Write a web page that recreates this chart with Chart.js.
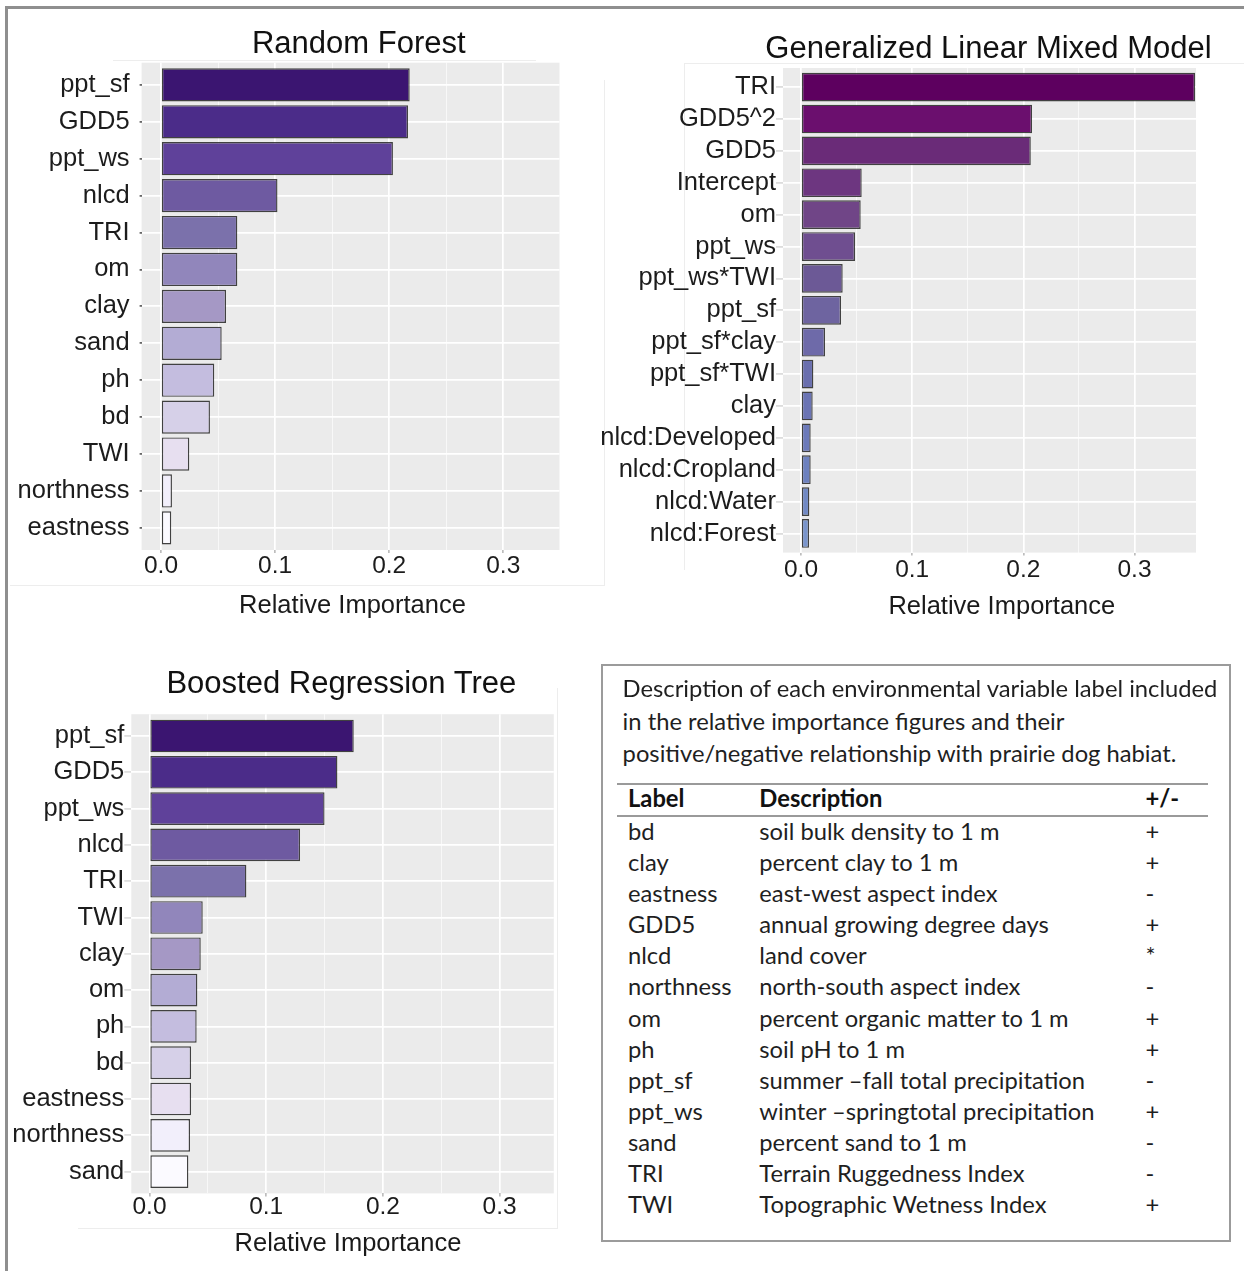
<!DOCTYPE html>
<html lang="en">
<head>
<meta charset="utf-8">
<title>Relative importance of prairie dog habitat variables</title>
<script src="https://cdn.jsdelivr.net/npm/chart.js@4.4.1/dist/chart.umd.min.js"></script>
<style>
  html, body { margin: 0; padding: 0; background: #fff; }
  body { position: relative; width: 1244px; height: 1271px; overflow: hidden; }
  .frame { position: absolute; left: 5px; top: 6px; width: 1300px; height: 1300px;
           border-top: 3px solid #8f8f8f; border-left: 3px solid #8f8f8f; }
  .faint { position: absolute; background: #ededed; }
  canvas { position: absolute; }
  .txt { position: absolute; white-space: nowrap; line-height: 1; }
  .note { position: absolute; left: 601px; top: 664px; width: 626px; height: 574px;
          border: 2px solid #9b9b9b; }
  .rule { position: absolute; left: 617px; width: 591px; height: 0; border-top: 2px solid #9a9a9a; }
</style>
</head>
<body>
<div class="frame"></div>

<!-- faint outlines of the individual plot backgrounds -->
<div class="faint" style="left:113px;top:60px;width:423px;height:1px"></div>
<div class="faint" style="left:604px;top:80px;width:1px;height:505px"></div>
<div class="faint" style="left:10px;top:585px;width:595px;height:1px"></div>
<div class="faint" style="left:684px;top:63px;width:560px;height:1px"></div>
<div class="faint" style="left:684px;top:63px;width:1px;height:507px"></div>
<div class="faint" style="left:557px;top:688px;width:1px;height:540px"></div>
<div class="faint" style="left:78px;top:1228px;width:480px;height:1px"></div>

<canvas id="rf" width="620" height="600" style="left:0px;top:0px"></canvas>
<canvas id="glmm" width="654" height="610" style="left:590px;top:0px"></canvas>
<canvas id="brt" width="600" height="600" style="left:0px;top:640px"></canvas>

<div class="note"></div>
<div class="rule" style="top:783px"></div>
<div class="rule" style="top:815px"></div>

<script>
// ---------------- data ----------------
const rfLabels = ['ppt_sf', 'GDD5', 'ppt_ws', 'nlcd', 'TRI', 'om', 'clay', 'sand', 'ph', 'bd', 'TWI', 'northness', 'eastness'];
const rfValues = [0.218, 0.2165, 0.2033, 0.1021, 0.0669, 0.0669, 0.0570, 0.0532, 0.0467, 0.0429, 0.0248, 0.0096, 0.0090];

const glmmLabels = ['TRI', 'GDD5^2', 'GDD5', 'Intercept', 'om', 'ppt_ws', 'ppt_ws*TWI', 'ppt_sf', 'ppt_sf*clay', 'ppt_sf*TWI', 'clay', 'nlcd:Developed', 'nlcd:Cropland', 'nlcd:Water', 'nlcd:Forest'];
const glmmValues = [0.3545, 0.2078, 0.2067, 0.0546, 0.0537, 0.0486, 0.0375, 0.0360, 0.0216, 0.0111, 0.0105, 0.0087, 0.0087, 0.0075, 0.0072];

const brtLabels = ['ppt_sf', 'GDD5', 'ppt_ws', 'nlcd', 'TRI', 'TWI', 'clay', 'om', 'ph', 'bd', 'eastness', 'northness', 'sand'];
const brtValues = [0.175, 0.161, 0.150, 0.129, 0.083, 0.0456, 0.0439, 0.041, 0.0404, 0.0356, 0.0356, 0.0347, 0.0333];

const xTickValues = [0, 0.05, 0.1, 0.15, 0.2, 0.25, 0.3];
const xTickLabels = ['0.0', '', '0.1', '', '0.2', '', '0.3'];

const chartTitles = ['Random Forest', 'Generalized Linear Mixed Model', 'Boosted Regression Tree'];
const axisTitle = 'Relative Importance';

const noteLines = [
  'Description of each environmental variable label included',
  'in the relative importance figures and their',
  'positive/negative relationship with prairie dog habiat.'
];
const tableHeader = ['Label', 'Description', '+/-'];
const varLabels = ['bd', 'clay', 'eastness', 'GDD5', 'nlcd', 'northness', 'om', 'ph', 'ppt_sf', 'ppt_ws', 'sand', 'TRI', 'TWI'];
const varDescriptions = [
  'soil bulk density to 1 m',
  'percent clay to 1 m',
  'east-west aspect index',
  'annual growing degree days',
  'land cover',
  'north-south aspect index',
  'percent organic matter to 1 m',
  'soil pH to 1 m',
  'summer \u2013fall total precipitation',
  'winter \u2013springtotal precipitation',
  'percent sand to 1 m',
  'Terrain Ruggedness Index',
  'Topographic Wetness Index'
];
const varSigns = ['+', '+', '-', '+', '*', '-', '+', '+', '-', '+', '-', '-', '+'];

// ---------------- styles ----------------
const purpleRamp = ['#3b1571', '#4b2c89', '#5f419a', '#6e5aa1', '#7b71ab', '#9186bb', '#a598c5',
                    '#b3acd4', '#c4bddf', '#d6d0e8', '#e7dff0', '#f2effb', '#fbfaff'];
const glmmRamp = ['#5d005f', '#6b0f6e', '#6a2b78', '#6d3680', '#704587', '#6f4e90', '#6c5996', '#6e64a0',
                  '#6e6aa9', '#6a6fae', '#6b74b4', '#6c7aba', '#6d81bf', '#7189c4', '#7a95cc'];

const SANS = '"Liberation Sans", Arial, Helvetica, sans-serif';
Chart.defaults.font.family = SANS;

// grey ggplot-style panel behind the bars
const panelBackground = {
  id: 'panelBackground',
  beforeDraw(chart) {
    const { ctx, chartArea: a } = chart;
    ctx.save();
    ctx.fillStyle = '#ebebeb';
    ctx.fillRect(a.left, a.top, a.right - a.left, a.bottom - a.top);
    ctx.restore();
  }
};

const isMajor = v => Math.abs(v * 10 - Math.round(v * 10)) < 1e-6;

function importanceChart(id, labels, values, colors, cfg) {
  const canvas = document.getElementById(id);
  const W = canvas.width, H = canvas.height;
  return new Chart(canvas, {
    type: 'bar',
    data: {
      datasets: [{
        data: values.map((v, i) => ({ x: v, y: i })),
        backgroundColor: colors,
        borderColor: 'rgba(35,35,35,0.85)',
        borderWidth: 1.4,
        borderSkipped: false,
        categoryPercentage: 1,
        barPercentage: 0.9
      }]
    },
    options: {
      indexAxis: 'y',
      responsive: false,
      animation: false,
      devicePixelRatio: 1,
      layout: { padding: { left: 0, top: cfg.area.t, right: W - cfg.area.r, bottom: 0 } },
      plugins: { legend: { display: false }, tooltip: { enabled: false }, title: { display: false } },
      scales: {
        x: {
          type: 'linear',
          min: cfg.xmin,
          max: cfg.xmax,
          afterBuildTicks: s => { s.ticks = xTickValues.map(v => ({ value: v })); },
          afterFit: s => { s.height = H - cfg.area.b; },
          border: { display: false },
          grid: {
            color: c => isMajor(c.tick.value) ? '#ffffff' : 'rgba(255,255,255,0.7)',
            lineWidth: c => isMajor(c.tick.value) ? 1.7 : 0.9,
            drawTicks: true,
            tickLength: 3,
            tickColor: c => isMajor(c.tick.value) ? '#bdbdbd' : 'rgba(0,0,0,0)'
          },
          ticks: {
            autoSkip: false,
            maxRotation: 0,
            padding: cfg.xPad,
            color: '#1c1c1c',
            font: { size: 24.5, lineHeight: 1 },
            callback: (v, i) => xTickLabels[i]
          }
        },
        y: {
          type: 'linear',
          reverse: true,
          offset: false,
          min: -0.6,
          max: labels.length - 0.4,
          afterBuildTicks: s => { s.ticks = labels.map((_, i) => ({ value: i })); },
          afterFit: s => { s.width = cfg.area.l; },
          border: { display: false },
          grid: {
            offset: false,
            color: '#ffffff',
            lineWidth: 1.8,
            drawTicks: true,
            tickLength: cfg.yTick,
            tickColor: cfg.yTickColor
          },
          ticks: {
            autoSkip: false,
            padding: cfg.yPad,
            color: '#1c1c1c',
            font: { size: 25.5 },
            callback: v => labels[v]
          }
        }
      }
    },
    plugins: [panelBackground]
  });
}

importanceChart('rf', rfLabels, rfValues, purpleRamp, {
  area: { l: 141.6, r: 559.5, t: 62.7, b: 550 },
  xmin: -0.0170, xmax: 0.3493, xPad: 0.5, yTick: 2, yTickColor: '#666', yPad: 10
});
importanceChart('glmm', glmmLabels, glmmValues, glmmRamp, {
  area: { l: 193, r: 606, t: 68, b: 552.6 },
  xmin: -0.0162, xmax: 0.3553, xPad: 2.4, yTick: 7, yTickColor: '#dcdcdc', yPad: 0
});
importanceChart('brt', brtLabels, brtValues, purpleRamp, {
  area: { l: 131.3, r: 553.8, t: 74.2, b: 553.4 },
  xmin: -0.0156, xmax: 0.3464, xPad: -1, yTick: 7, yTickColor: '#dedede', yPad: 0
});

// ---------------- text placed on its baseline ----------------
const meter = document.createElement('canvas').getContext('2d');
function placeText(text, opts) {
  const { x, baseline, size, family, weight = 400, color = '#111', align = 'left' } = opts;
  meter.font = `${weight} ${size}px ${family}`;
  const m = meter.measureText(text);
  const asc = m.fontBoundingBoxAscent, desc = m.fontBoundingBoxDescent;
  const el = document.createElement('div');
  el.className = 'txt';
  el.textContent = text;
  el.style.fontFamily = family;
  el.style.fontSize = size + 'px';
  el.style.fontWeight = weight;
  el.style.color = color;
  el.style.top = (baseline - ((size - (asc + desc)) / 2 + asc)) + 'px';
  el.style.left = (align === 'center' ? x - m.width / 2 : x) + 'px';
  document.body.appendChild(el);
  return el;
}

// chart titles and axis titles
[[358.8, 53.3], [988.5, 58.3], [341.6, 693.3]].forEach(([x, b], i) =>
  placeText(chartTitles[i], { x, baseline: b, size: 31, family: SANS, color: '#111', align: 'center' }));
[[352.5, 613.3], [1001.8, 615], [348, 1251.7]].forEach(([x, b]) =>
  placeText(axisTitle, { x, baseline: b, size: 25.5, family: SANS, color: '#1a1a1a', align: 'center' }));

// variable description table
const TBL = 'Lato, "Open Sans", sans-serif';
meter.font = `400 100px ${TBL}`;
const tblSize = 100 * 596 / meter.measureText(noteLines[0]).width;
const tblColor = '#1f1f1f';

[698.3, 731, 763.3].forEach((b, i) =>
  placeText(noteLines[i], { x: 622.6, baseline: b, size: tblSize, family: TBL, color: tblColor }));

const colX = [628, 759.3, 1145.5];
tableHeader.forEach((h, i) =>
  placeText(h, { x: colX[i], baseline: 808.3, size: tblSize, family: TBL, weight: 700, color: '#111' }));

varLabels.forEach((lab, r) => {
  const b = 840.7 + r * 31.13;
  placeText(lab, { x: colX[0], baseline: b, size: tblSize, family: TBL, color: tblColor });
  placeText(varDescriptions[r], { x: colX[1], baseline: b, size: tblSize, family: TBL, color: tblColor });
  placeText(varSigns[r], { x: colX[2], baseline: b, size: tblSize, family: TBL, color: tblColor });
});
</script>
</body>
</html>
